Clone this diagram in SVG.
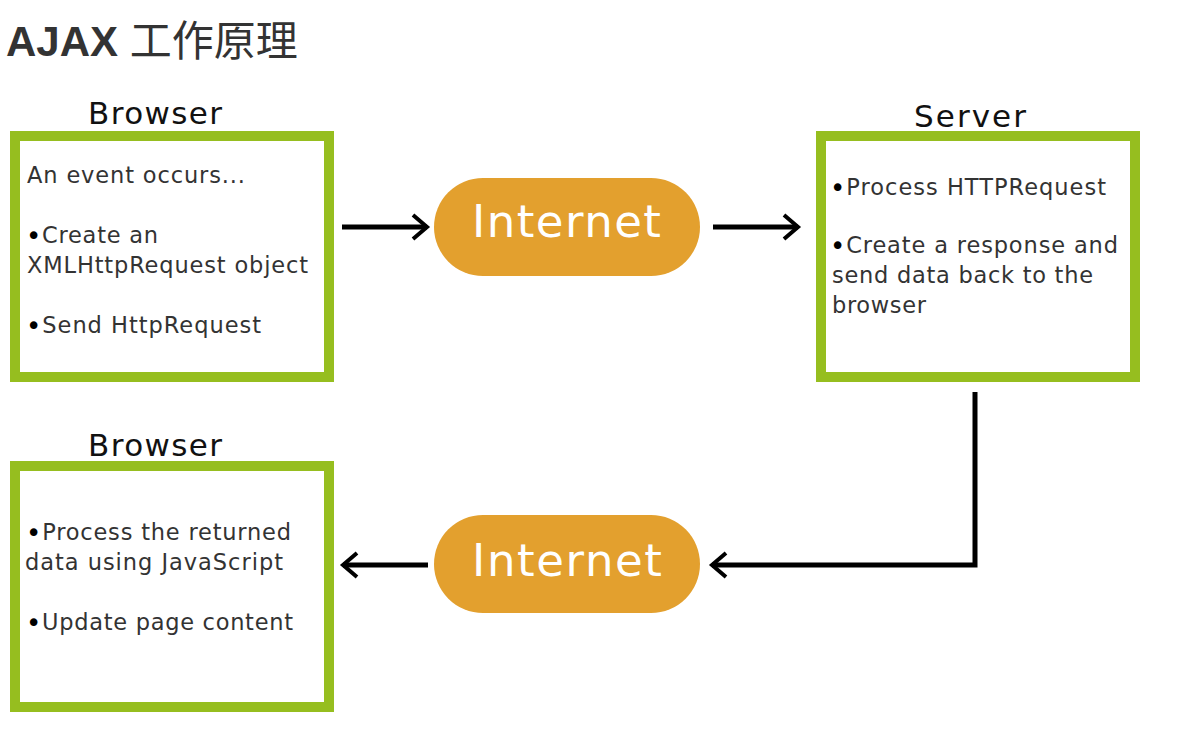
<svg xmlns="http://www.w3.org/2000/svg" width="1186" height="730" viewBox="0 0 1186 730">
<style>
.box{fill:#fff;stroke:#96be1f;stroke-width:10}
.pill{fill:#e3a02e}
.lbl{font-family:"DejaVu Sans",Verdana,sans-serif;font-size:31px;fill:#111;text-anchor:middle}
.body{font-family:"DejaVu Sans",Verdana,sans-serif;font-size:22.5px;fill:#333}
.b{font-size:26px;fill:#000}
.net{font-family:"DejaVu Sans",Verdana,sans-serif;font-size:45px;fill:#fff}
.conn{fill:none;stroke:#000;stroke-width:5}
</style>
<defs>
<marker id="arr" markerUnits="userSpaceOnUse" markerWidth="20" markerHeight="30" refX="16" refY="13" orient="auto" viewBox="0 0 20 26">
<path d="M2,1 L16,13 L2,25" fill="none" stroke="#000" stroke-width="4"/>
</marker>
</defs>
<rect width="1186" height="730" fill="#fff"/>
<text x="6" y="56" font-family="'Liberation Sans','Noto Sans CJK SC',sans-serif" font-size="42" fill="#333"><tspan font-weight="bold">AJAX</tspan> 工作原理</text>

<g id="browser1">
<text class="lbl" x="155" y="124" textLength="134">Browser</text>
<rect class="box" x="15" y="136" width="314" height="241"/>
<text class="body" x="27" y="183" textLength="218">An event occurs...</text>
<text class="body" x="26" y="243" textLength="132"><tspan class="b" dy="2">•</tspan><tspan dy="-2">Create an</tspan></text>
<text class="body" x="27" y="273" textLength="281">XMLHttpRequest object</text>
<text class="body" x="26" y="333" textLength="235"><tspan class="b" dy="2">•</tspan><tspan dy="-2">Send HttpRequest</tspan></text>
</g>

<g id="internet1">
<rect class="pill" x="434" y="178" width="266" height="98" rx="49"/>
<text class="net" x="472" y="237" textLength="189">Internet</text>
</g>

<g id="server">
<text class="lbl" x="970" y="127" textLength="112">Server</text>
<rect class="box" x="821" y="136" width="314" height="241"/>
<text class="body" x="830" y="195" textLength="276"><tspan class="b" dy="2">•</tspan><tspan dy="-2">Process HTTPRequest</tspan></text>
<text class="body" x="830" y="253" textLength="288"><tspan class="b" dy="2">•</tspan><tspan dy="-2">Create a response and</tspan></text>
<text class="body" x="832" y="283" textLength="261">send data back to the</text>
<text class="body" x="832" y="313" textLength="94">browser</text>
</g>

<g id="browser2">
<text class="lbl" x="155" y="456" textLength="134">Browser</text>
<rect class="box" x="15" y="466" width="314" height="241"/>
<text class="body" x="26" y="540" textLength="265"><tspan class="b" dy="2">•</tspan><tspan dy="-2">Process the returned</tspan></text>
<text class="body" x="25" y="570" textLength="258">data using JavaScript</text>
<text class="body" x="26" y="630" textLength="267"><tspan class="b" dy="2">•</tspan><tspan dy="-2">Update page content</tspan></text>
</g>

<g id="internet2">
<rect class="pill" x="434" y="515" width="266" height="98" rx="49"/>
<text class="net" x="472" y="576" textLength="190">Internet</text>
</g>

<g id="connectors">
<path class="conn" d="M342,227 H427" marker-end="url(#arr)"/>
<path class="conn" d="M713,227 H798" marker-end="url(#arr)"/>
<path class="conn" d="M975,392 V565 H712" marker-end="url(#arr)"/>
<path class="conn" d="M428,565 H343" marker-end="url(#arr)"/>
</g>
</svg>
